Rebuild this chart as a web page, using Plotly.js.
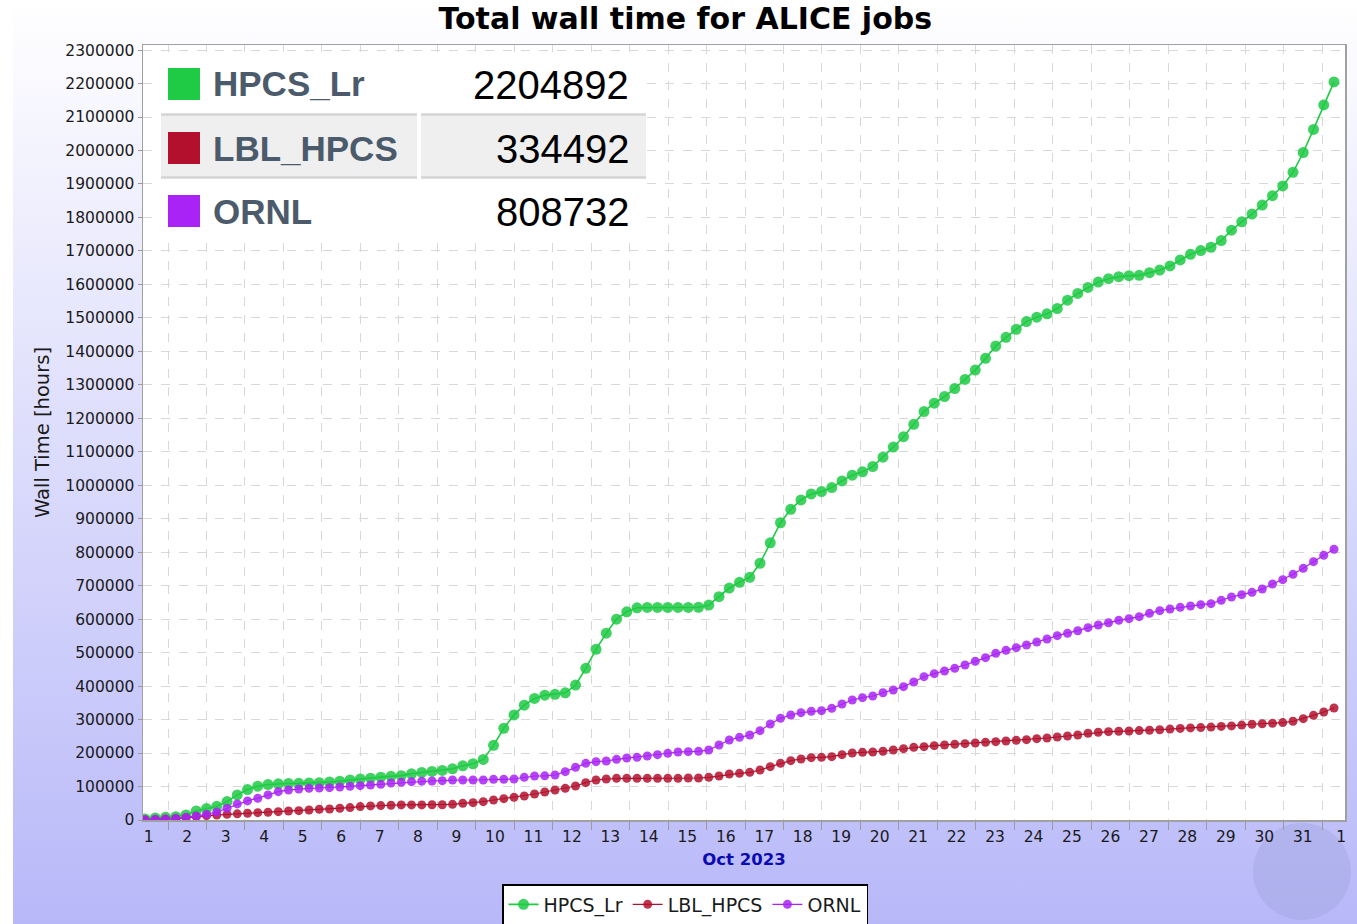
<!DOCTYPE html>
<html><head><meta charset="utf-8">
<script src="https://cdn.plot.ly/plotly-3.0.1.min.js"></script>
<style>
html,body{margin:0;padding:0;background:#ffffff;}
#bg{position:absolute;left:13px;top:0;width:1344px;height:924px;background:linear-gradient(to bottom,#ffffff 0%,#b8b8f9 100%);}
#chart{position:absolute;left:0;top:0;width:1357px;height:924px;}
</style></head><body>
<div id="bg"></div><div id="chart"></div>
<script>
// ---- data ----
const seriesNames = ['HPCS_Lr', 'LBL_HPCS', 'ORNL'];
const seriesColors = ['#1fca44', '#b3102e', '#a923f6'];
const startTime = '2023-10-01T09:40:00Z';   // first sample
const stepHours = 6.395;                    // sampling interval
const hpcsLr = [3000,6000,8000,10000,15000,27000,34000,41000,55000,75000,
91000,101000,106000,108000,109000,109500,110500,111500,113500,116000,
119500,122500,125000,128000,130500,132500,138000,142000,145000,148000,
153000,162000,168000,181000,223000,274000,314000,343000,363000,373000,
375500,380000,403000,453000,510000,558000,600000,622000,634000,635000,
635000,635000,635000,635000,635500,642000,667000,693000,710000,725000,
767000,828000,888000,928000,956000,974000,981000,993000,1013000,1030000,
1040000,1056000,1084000,1114000,1145000,1182000,1220000,1245000,1265000,1289000,
1316000,1344000,1379000,1416000,1442000,1466000,1489000,1502000,1512000,1528000,
1553000,1573000,1591000,1607000,1617000,1623000,1626000,1627000,1635000,1643000,
1655000,1673000,1690000,1701000,1711000,1731000,1762000,1787000,1810000,1837000,
1865000,1894000,1935000,1994000,2063000,2136000,2204892];
const lblHpcs = [0,1000,2000,3000,6000,10000,13000,15000,17000,18500,
20000,22000,23000,25000,27000,28000,30000,32000,33000,35000,
37000,40000,42000,43000,44000,45000,45000,45000,45500,45500,
46800,49800,51800,54800,59700,63700,67700,71700,77700,83600,
89600,94600,101600,111500,119500,122500,124500,124500,124500,124500,
124500,124500,124500,125500,125500,127500,131400,137400,139400,142400,
149400,159300,169300,177300,182200,186200,187200,189200,195200,200200,
202200,203100,205500,209100,213100,217100,219100,222000,224000,226000,
228000,230000,232000,234000,236000,238000,240000,243000,245000,248000,
251000,254000,259000,262000,264000,265000,266000,267000,268000,269500,
271500,273500,275000,276000,277500,279500,281000,283500,286000,287500,
289000,291000,295000,302700,312700,322600,334492];
const ornl = [1000,2000,3000,5000,8000,12000,17000,24000,35000,48000,
57000,65000,75000,84600,89600,92600,94600,95600,96600,98600,
100600,102600,104600,106600,110500,112500,114500,116000,116500,117500,
119500,119500,119500,119500,121500,121500,122500,127500,131400,132000,
134400,144400,157300,169300,174300,176300,181300,185200,187200,191200,
195200,199200,203100,204100,205100,209100,224000,239000,246900,253900,
266900,286800,303700,313700,320600,324600,326600,333600,346500,358500,
365400,370400,380000,388400,398300,412200,428100,437100,445100,453100,
463000,474000,484900,497900,506800,514800,522800,531700,540700,550600,
557600,565500,574500,582500,589400,596400,601400,607400,617300,625300,
630300,635300,639300,643300,646300,656200,666200,673100,680100,690100,
705000,718000,733900,751800,771700,790600,808732];
const seriesValues = [hpcsLr, lblHpcs, ornl];

// ---- time stamps of the samples ----
const t0 = Date.parse(startTime);
const times = hpcsLr.map((_, i) => new Date(t0 + i * stepHours * 3600e3).toISOString().replace('T', ' ').slice(0, 19));

// ---- geometry helpers (page px -> paper) ----
const PL = 143, PR = 1345, PT = 45, PB = 820;
const X = px => (px - PL) / (PR - PL);
const Y = py => (PB - py) / (PB - PT);

const markerSizes = [11, 9, 9];
const lineWidths = [1.6, 1.2, 1.2];
const traces = seriesNames.map((n, k) => ({
  type: 'scatter', mode: 'lines+markers', name: n,
  x: times, y: seriesValues[k],
  line: {color: seriesColors[k], width: lineWidths[k]},
  marker: {color: seriesColors[k], size: markerSizes[k], opacity: 0.85}
}));

// ---- summary table (top-left) ----
const rowY = [84, 148, 211];
const shapes = [
  {type: 'rect', xref: 'paper', yref: 'paper', layer: 'above', x0: X(160), x1: X(646), y0: Y(242), y1: Y(52), fillcolor: '#ffffff', line: {width: 0}},
  {type: 'rect', xref: 'paper', yref: 'paper', layer: 'above', x0: X(161), x1: X(417), y0: Y(178), y1: Y(114), fillcolor: '#efefef', line: {width: 0}},
  {type: 'rect', xref: 'paper', yref: 'paper', layer: 'above', x0: X(421), x1: X(646), y0: Y(178), y1: Y(114), fillcolor: '#efefef', line: {width: 0}},
  {type: 'line', xref: 'paper', yref: 'paper', layer: 'above', x0: X(161), x1: X(417), y0: Y(114.5), y1: Y(114.5), line: {color: '#d4d4d4', width: 2.5}},
  {type: 'line', xref: 'paper', yref: 'paper', layer: 'above', x0: X(421), x1: X(646), y0: Y(114.5), y1: Y(114.5), line: {color: '#d4d4d4', width: 2.5}},
  {type: 'line', xref: 'paper', yref: 'paper', layer: 'above', x0: X(161), x1: X(417), y0: Y(177.5), y1: Y(177.5), line: {color: '#d4d4d4', width: 2.5}},
  {type: 'line', xref: 'paper', yref: 'paper', layer: 'above', x0: X(421), x1: X(646), y0: Y(177.5), y1: Y(177.5), line: {color: '#d4d4d4', width: 2.5}},
  {type: 'circle', xref: 'paper', yref: 'paper', layer: 'below', x0: X(1253), x1: X(1351), y0: Y(920), y1: Y(823), fillcolor: 'rgba(155,160,215,0.35)', line: {width: 0}}
];
const annotations = [];
seriesNames.forEach((n, k) => {
  shapes.push({type: 'rect', xref: 'paper', yref: 'paper', layer: 'above', x0: X(168), x1: X(200), y0: Y(rowY[k] + 16), y1: Y(rowY[k] - 16), fillcolor: seriesColors[k], line: {width: 0}});
  annotations.push({xref: 'paper', yref: 'paper', x: X(211), y: Y(rowY[k]), xanchor: 'left', yanchor: 'middle', showarrow: false,
    text: n, font: {family: 'Liberation Sans, Arial, sans-serif', size: 35, color: '#4b5b6c', weight: 'bold'}});
  const v = seriesValues[k][seriesValues[k].length - 1];
  annotations.push({xref: 'paper', yref: 'paper', x: X(631), y: Y(rowY[k] + 1), xanchor: 'right', yanchor: 'middle', showarrow: false,
    text: String(v), font: {family: 'Liberation Sans, Arial, sans-serif', size: 40, color: '#000000'}});
});

const yMax = Math.max(...hpcsLr) * 1.05;
const layout = {
  width: 1357, height: 924,
  paper_bgcolor: 'rgba(0,0,0,0)', plot_bgcolor: '#ffffff',
  margin: {l: PL, r: 1357 - PR, t: PT, b: 924 - PB, autoexpand: false},
  font: {family: 'DejaVu Sans', color: '#222222'},
  title: {text: 'Total wall time for ALICE jobs', xref: 'container', x: 0.505, xanchor: 'center', yref: 'container', y: 1 - 18 / 924, yanchor: 'middle',
    font: {family: 'DejaVu Sans', size: 30, color: '#000000', weight: 'bold'}},
  xaxis: {
    type: 'date', range: ['2023-10-01 08:24:00', '2023-11-01 14:21:00'],
    tick0: '2023-10-01', dtick: 86400000, tickformat: '%-d', ticklabelmode: 'period',
    ticks: 'outside', ticklen: 8, tickcolor: '#9a9a9a', tickwidth: 1, ticklabelstandoff: -6,
    showgrid: true, gridcolor: '#d8d8d8', griddash: 'dash', gridwidth: 1,
    showline: true, linecolor: '#a0a0a0', linewidth: 1.5, mirror: true,
    zeroline: false, automargin: false,
    tickfont: {family: 'DejaVu Sans', size: 15.5, color: '#1a1a1a'},
    title: {text: 'Oct 2023', standoff: 8, font: {family: 'DejaVu Sans', size: 16.5, color: '#0b0bb0', weight: 'bold'}}
  },
  yaxis: {
    range: [0, yMax], tick0: 0, dtick: 100000, tickformat: 'd',
    ticks: 'outside', ticklen: 4, tickcolor: '#9a9a9a',
    showgrid: true, gridcolor: '#d8d8d8', griddash: 'dash', gridwidth: 1,
    showline: true, linecolor: '#a0a0a0', linewidth: 1.5, mirror: true,
    zeroline: false, automargin: false,
    tickfont: {family: 'DejaVu Sans', size: 15.5, color: '#1a1a1a'},
    title: {text: 'Wall Time [hours]', standoff: 10, font: {family: 'DejaVu Sans', size: 19.5, color: '#1a1a1a'}}
  },
  showlegend: true,
  legend: {orientation: 'h', x: (685 - PL) / (PR - PL), xanchor: 'center', y: Y(884), yanchor: 'top',
    bgcolor: '#ffffff', bordercolor: '#000000', borderwidth: 1.5, tracegroupgap: 0,
    font: {family: 'DejaVu Sans', size: 19, color: '#1a1a1a'}, itemwidth: 30},
  shapes: shapes, annotations: annotations
};
Plotly.newPlot('chart', traces, layout, {displayModeBar: false, staticPlot: true});
</script>
</body></html>
